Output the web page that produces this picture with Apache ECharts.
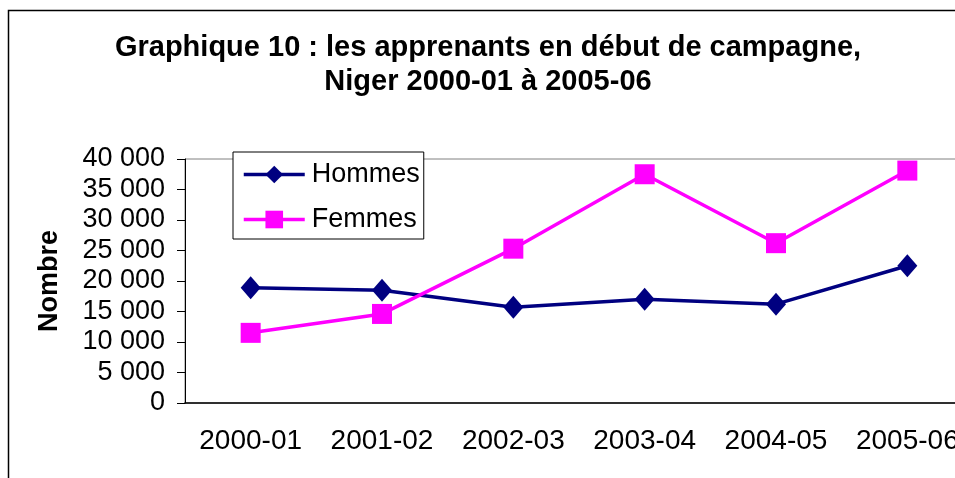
<!DOCTYPE html>
<html>
<head>
<meta charset="utf-8">
<script src="https://cdn.jsdelivr.net/npm/echarts@6/dist/echarts.min.js"></script>
<style>
  html, body { margin: 0; padding: 0; background: #fff; overflow: hidden; }
  /* the plot runs past the right edge in the original, so the canvas is wider than the window */
  #chart { width: 976px; height: 478px; }
</style>
</head>
<body>
<div id="chart"></div>
<script>
const categories = ['2000-01', '2001-02', '2002-03', '2003-04', '2004-05', '2005-06']
const hommes = [18900, 18500, 15700, 17000, 16200, 22500]
const femmes = [11500, 14600, 25300, 37500, 26200, 38100]
const yTicks = { min: 0, max: 40000, step: 5000 }

const font = 'Liberation Sans, Arial, sans-serif'

// 40000 -> "40 000"
function spaced(v) {
  return String(v).replace(/\B(?=(\d{3})+(?!\d))/g, ' ')
}

const chart = echarts.init(document.getElementById('chart'))
chart.setOption({
  animation: false,
  backgroundColor: '#fff',
  title: {
    text: 'Graphique 10 : les apprenants en début de campagne,\nNiger 2000-01 à 2005-06',
    left: 'center',
    top: 26,
    textStyle: {
      fontFamily: font,
      fontSize: 29,
      fontWeight: 'bold',
      color: '#000',
      lineHeight: 34
    }
  },
  graphic: [{
    type: 'rect',
    shape: { x: 8.5, y: 10.5, width: 1200, height: 1000 },
    style: { fill: 'none', stroke: '#000', lineWidth: 1.5 },
    silent: true
  }],
  legend: {
    orient: 'vertical',
    left: 233,
    top: 152,
    padding: [9, 4, 6, 9],
    itemWidth: 61,
    itemHeight: 22,
    itemGap: 18,
    borderColor: '#000',
    borderWidth: 1,
    backgroundColor: '#fff',
    lineStyle: { width: 3.5 },
    textStyle: { fontFamily: font, fontSize: 27, color: '#000', padding: [0, 0, 0, 2] },
    data: ['Hommes', 'Femmes']
  },
  grid: {
    left: 185,
    top: 159,
    bottom: 75,
    right: 3,
    show: true,
    borderColor: '#808080',
    borderWidth: 1
  },
  xAxis: {
    type: 'category',
    data: categories,
    axisLine: { lineStyle: { color: '#000', width: 1.5 } },
    axisTick: { length: 8, lineStyle: { color: '#000' } },
    axisLabel: { interval: 0, fontFamily: font, fontSize: 28, color: '#000', margin: 24 }
  },
  yAxis: {
    type: 'value',
    min: yTicks.min,
    max: yTicks.max,
    interval: yTicks.step,
    name: 'Nombre',
    nameLocation: 'middle',
    nameGap: 122,
    nameTextStyle: { fontFamily: font, fontSize: 27, fontWeight: 'bold', color: '#000' },
    axisLine: { show: true, lineStyle: { color: '#000', width: 1 } },
    axisTick: { show: true, length: 8, lineStyle: { color: '#000' } },
    splitLine: { show: false },
    axisLabel: {
      fontFamily: font,
      fontSize: 27,
      color: '#000',
      margin: 20,
      formatter: spaced
    }
  },
  series: [{
    name: 'Hommes',
    type: 'line',
    data: hommes,
    symbol: 'diamond',
    symbolSize: [20, 23],
    lineStyle: { color: '#000080', width: 3.5 },
    itemStyle: { color: '#000080' }
  }, {
    name: 'Femmes',
    type: 'line',
    data: femmes,
    symbol: 'rect',
    symbolSize: 20,
    lineStyle: { color: '#ff00ff', width: 3.5 },
    itemStyle: { color: '#ff00ff' }
  }]
})
</script>
</body>
</html>
